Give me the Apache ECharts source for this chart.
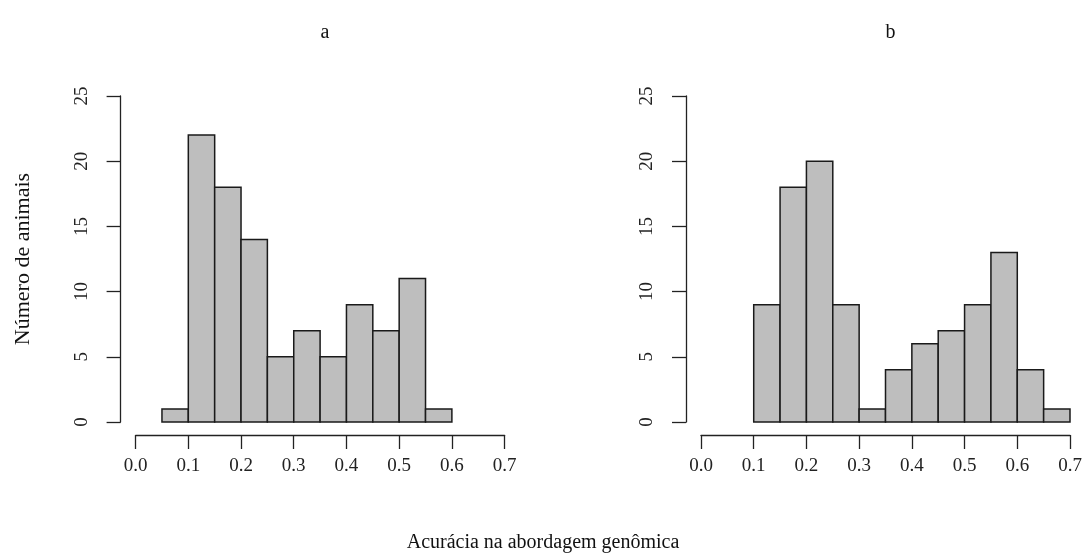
<!DOCTYPE html>
<html><head><meta charset="utf-8">
<script src="https://cdn.jsdelivr.net/npm/echarts@6/dist/echarts.min.js"></script>
<style>html,body{margin:0;padding:0;background:#fff}#c{width:1085px;height:559px}</style>
</head><body><div id="c"></div>
<script>
const binLeft = [0.00,0.05,0.10,0.15,0.20,0.25,0.30,0.35,0.40,0.45,0.50,0.55,0.60,0.65];
const binWidth = 0.05;
const countsA = [0,1,22,18,14,5,7,5,9,7,11,1,0,0];
const countsB = [0,0,9,18,20,9,1,4,6,7,9,13,4,1];
const panelTitles = ['a','b'];
const xTicks = [0.0,0.1,0.2,0.3,0.4,0.5,0.6,0.7];
const yTicks = [0,5,10,15,20,25];
const yTitle = 'Número de animais';
const xTitle = 'Acurácia na abordagem genômica';

const FONT = '"Liberation Serif", "DejaVu Serif", serif';
const chart = echarts.init(document.getElementById('c'), null, {renderer:'canvas'});

function toData(counts){
  const d=[];
  counts.forEach((c,i)=>{ if(c>0) d.push([binLeft[i], binLeft[i]+binWidth, c]); });
  return d;
}
function renderItem(params, api){
  const p0 = api.coord([api.value(0), 0]);
  const p1 = api.coord([api.value(1), api.value(2)]);
  return {type:'rect', shape:{x:p0[0], y:p1[1], width:p1[0]-p0[0], height:p0[1]-p1[1]},
    style:{fill:'#bebebe', stroke:'#1a1a1a', lineWidth:1.5}};
}
const grids = [
  {left:135.6, top:96, width:369, height:326},
  {left:701, top:96, width:369, height:326}
];
const xAxes = grids.map((g,i)=>({
  type:'value', gridIndex:i, min:0, max:0.7, interval:0.1, offset:13, position:'bottom',
  axisLine:{show:true, onZero:false, lineStyle:{color:'#222', width:1.3}},
  axisTick:{show:true, length:14, lineStyle:{color:'#222', width:1.3}},
  axisLabel:{show:true, margin:22, color:'#222', fontFamily:FONT, fontSize:19,
    formatter:v=>v.toFixed(1)},
  splitLine:{show:false}
}));
const yAxes = grids.map((g,i)=>({
  type:'value', gridIndex:i, min:0, max:25, interval:5, offset:15, position:'left',
  axisLine:{show:true, onZero:false, lineStyle:{color:'#222', width:1.3}},
  axisTick:{show:true, length:14, lineStyle:{color:'#222', width:1.3}},
  axisLabel:{show:true, rotate:90, margin:29, color:'#222', fontFamily:FONT, fontSize:19,
    formatter:v=>String(v)},
  splitLine:{show:false}
}));
chart.setOption({
  animation:false,
  backgroundColor:'#fff',
  title:[
    {text:panelTitles[0], left:320, top:18, textAlign:'center', textStyle:{fontFamily:FONT, fontSize:20, fontWeight:'normal', color:'#111'}},
    {text:panelTitles[1], left:885.5, top:18, textAlign:'center', textStyle:{fontFamily:FONT, fontSize:20, fontWeight:'normal', color:'#111'}}
  ],
  grid:grids,
  xAxis:xAxes,
  yAxis:yAxes,
  graphic:[
    {type:'text', x:23, y:259, rotation:Math.PI/2, style:{text:yTitle, font:'22px '+FONT, fill:'#111', textAlign:'center', textVerticalAlign:'middle'}},
    {type:'text', x:543, y:543, style:{text:xTitle, font:'20px '+FONT, fill:'#111', textAlign:'center', textVerticalAlign:'middle'}}
  ],
  series:[
    {type:'custom', xAxisIndex:0, yAxisIndex:0, renderItem, data:toData(countsA), encode:{x:[0,1], y:2}},
    {type:'custom', xAxisIndex:1, yAxisIndex:1, renderItem, data:toData(countsB), encode:{x:[0,1], y:2}}
  ]
});
</script></body></html>
